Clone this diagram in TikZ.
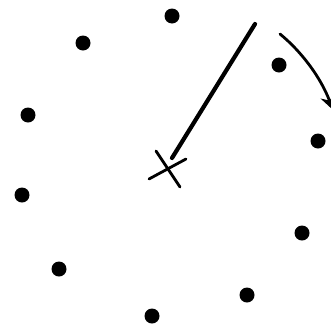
\documentclass[tikz,border=0pt]{standalone}
\usetikzlibrary{arrows.meta}
\begin{document}
\begin{tikzpicture}[x=1pt,y=-1pt,
  dotnode/.style={circle,fill=black,inner sep=0pt,minimum size=15pt},
  pen/.style={line width=3pt,line cap=round,black}]
\useasboundingbox (0,0) rectangle (331,327);
\fill[white] (0,0) rectangle (331,327);
\node[dotnode] (d1) at (172,16) {};
\node[dotnode] (d2) at (83,43) {};
\node[dotnode] (d3) at (28,115) {};
\node[dotnode] (d4) at (22,195) {};
\node[dotnode] (d5) at (59,269) {};
\node[dotnode] (d6) at (152,316) {};
\node[dotnode] (d7) at (247,295) {};
\node[dotnode] (d8) at (302,233) {};
\node[dotnode] (d9) at (318,141) {};
\node[dotnode] (d10) at (279,65) {};
% centre cross
\coordinate (xa1) at (156,151);
\coordinate (xa2) at (180,187);
\coordinate (xb1) at (149,179);
\coordinate (xb2) at (186,159);
\draw[pen,line width=2.8pt] (xa1) -- (xa2);
\draw[pen,line width=2.8pt] (xb1) -- (xb2);
% radius line
\coordinate (r1) at (172,158);
\coordinate (r2) at (255,24);
\draw[pen,line width=4.2pt] (r1) -- (r2);
% curved arrow
\coordinate (a1) at (280,34);
\coordinate (a2) at (333,110);
\draw[pen,line width=2.8pt,-{Stealth[length=15pt,width=15pt,inset=5pt]}] (a1) .. controls (302,52) and (321,78) .. (a2);
\end{tikzpicture}
\end{document}
